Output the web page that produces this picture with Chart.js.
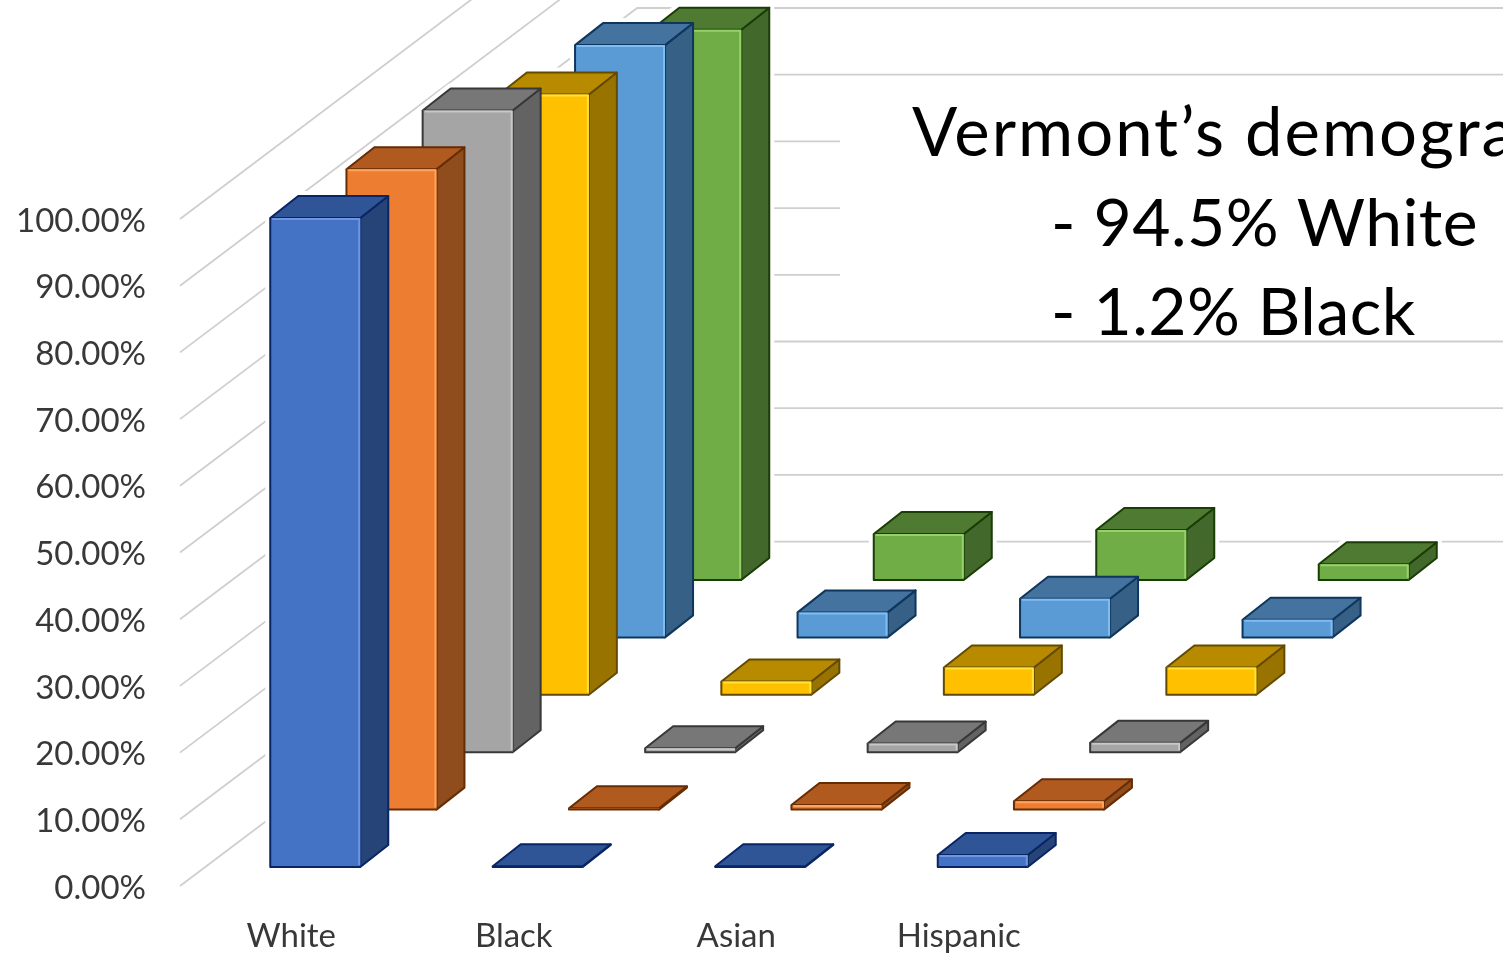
<!DOCTYPE html>
<html>
<head>
<meta charset="utf-8">
<title>Vermont demographics</title>
<script src="https://cdn.jsdelivr.net/npm/chart.js@4/dist/chart.umd.min.js"></script>
<style>
    body { margin: 0; background: #fff; }
    canvas { display: block; filter: blur(0.7px); }
</style>
</head>
<body>
<canvas id="demoChart" width="1503" height="955"></canvas>
<script>
// values
const categories = ['White', 'Black', 'Asian', 'Hispanic'];
const seriesNames = ['Series 1', 'Series 2', 'Series 3', 'Series 4', 'Series 5', 'Series 6'];
const series1 = [97.3, 0.1, 0.1, 1.8];
const series2 = [96.0, 0.2, 0.7, 1.25];
const series3 = [96.2, 0.6, 1.3, 1.4];
const series4 = [90.0, 2.0, 4.1, 4.1];
const series5 = [88.8, 3.75, 5.8, 2.65];
const series6 = [82.5, 6.9, 7.5, 2.35];
const allSeries = [series1, series2, series3, series4, series5, series6];
const noteLines = ['Vermont\u2019s demographics', '- 94.5% White', '- 1.2% Black'];

// front, side, top, dark edge, light edge
const palette = [
    ['#4472c4', '#264478', '#2f5597', '#0a2563', '#6f97e0'],
    ['#ed7d31', '#8f4c1c', '#b05a20', '#662c04', '#ffa35f'],
    ['#a5a5a5', '#636363', '#777777', '#383838', '#c8c8c8'],
    ['#ffc000', '#997300', '#b88a00', '#634a00', '#ffe23a'],
    ['#5b9bd5', '#376087', '#44739f', '#0f365c', '#7fbdf2'],
    ['#70ad47', '#43682b', '#4f7a32', '#1a3c05', '#96d26a']
];

// oblique projection of the depth axis
const STEP_X = 76.2;
const STEP_Y = -57.4;
const DEPTH_X = 28;
const DEPTH_Y = -22;
const BAR_SHIFT_X = 24;
const BAR_SHIFT_Y = -21;
const GRID_SHIFT_Y = -2;
const GRID = '#cfcfcf';

function poly(ctx, pts, fill, stroke) {
    ctx.beginPath();
    pts.forEach((p, i) => i ? ctx.lineTo(p[0], p[1]) : ctx.moveTo(p[0], p[1]));
    ctx.closePath();
    ctx.fillStyle = fill;
    ctx.fill();
    if (stroke) {
        ctx.strokeStyle = stroke;
        ctx.lineWidth = 2;
        ctx.lineJoin = 'round';
        ctx.stroke();
    }
}

function boxOf(bar, s) {
    const left = bar.x - bar.width / 2 + BAR_SHIFT_X + s * STEP_X;
    const bottom = bar.base + BAR_SHIFT_Y + s * STEP_Y;
    return { left, right: left + bar.width, bottom, top: bottom - (bar.base - bar.y) };
}

const bars3d = {
    id: 'bars3d',
    beforeDatasetsDraw(chart) {
        const { ctx, scales: { x, y } } = chart;
        const backX = allSeries.length * STEP_X;
        const backY = allSeries.length * STEP_Y;
        ctx.save();
        ctx.strokeStyle = GRID;
        ctx.lineWidth = 1.8;
        y.ticks.forEach(t => {
            const py = y.getPixelForValue(t.value) + GRID_SHIFT_Y;
            ctx.beginPath();
            ctx.moveTo(x.left, py);
            ctx.lineTo(x.left + backX, py + backY);
            ctx.lineTo(chart.width, py + backY);
            ctx.stroke();
        });
        // white halo round the boxes, the gridlines stop short of them
        allSeries.forEach((vals, s) => {
            chart.getDatasetMeta(s).data.forEach(bar => {
                const b = boxOf(bar, s);
                ctx.strokeStyle = '#fff';
                ctx.lineWidth = 10;
                poly(ctx, [[b.left, b.bottom], [b.left, b.top], [b.left + DEPTH_X, b.top + DEPTH_Y],
                    [b.right + DEPTH_X, b.top + DEPTH_Y], [b.right + DEPTH_X, b.bottom + DEPTH_Y], [b.right, b.bottom]], '#fff');
                ctx.stroke();
            });
        });
        ctx.restore();
    },
    beforeDatasetDraw(chart, args) {
        const { ctx } = chart;
        const s = args.index;
        const c = palette[s];
        ctx.save();
        args.meta.data.forEach(bar => {
            const b = boxOf(bar, s);
            poly(ctx, [[b.right, b.bottom], [b.right, b.top], [b.right + DEPTH_X, b.top + DEPTH_Y], [b.right + DEPTH_X, b.bottom + DEPTH_Y]], c[1], c[3]);
            poly(ctx, [[b.left, b.top], [b.right, b.top], [b.right + DEPTH_X, b.top + DEPTH_Y], [b.left + DEPTH_X, b.top + DEPTH_Y]], c[2], c[3]);
            poly(ctx, [[b.left, b.bottom], [b.left, b.top], [b.right, b.top], [b.right, b.bottom]], c[0]);
            // bevel on the front face
            ctx.lineWidth = 2;
            ctx.strokeStyle = c[3];
            ctx.beginPath();
            ctx.moveTo(b.left, b.top);
            ctx.lineTo(b.left, b.bottom);
            ctx.lineTo(b.right, b.bottom);
            ctx.stroke();
            if (b.bottom - b.top > 4) {
                ctx.lineWidth = 2;
                ctx.strokeStyle = c[4];
                ctx.beginPath();
                ctx.moveTo(b.left + 2, b.top + 1);
                ctx.lineTo(b.right - 1, b.top + 1);
                ctx.lineTo(b.right - 1, b.bottom - 2);
                ctx.stroke();
            }
        });
        ctx.restore();
        return false;
    },
    afterDraw(chart) {
        const { ctx } = chart;
        ctx.save();
        // the text box covers the back wall lines
        ctx.fillStyle = '#fff';
        ctx.fillRect(840, 80, chart.width - 840, 261);
        ctx.fillStyle = '#e6e6e6';
        ctx.fillRect(840, 340, chart.width - 840, 1);
        ctx.fillStyle = '#000';
        ctx.textAlign = 'left';
        ctx.textBaseline = 'alphabetic';
        ctx.font = '67px Lato';
        ctx.letterSpacing = '2px';
        ctx.fillText(noteLines[0], 912, 156);
        ctx.font = '66px Lato';
        ctx.letterSpacing = '0.5px';
        ctx.fillText(noteLines[1], 1051, 246);
        ctx.fillText(noteLines[2], 1051, 335);
        ctx.restore();
    }
};

new Chart(document.getElementById('demoChart'), {
    type: 'bar',
    data: {
        labels: categories,
        datasets: allSeries.map((vals, s) => ({
            label: seriesNames[s],
            data: vals,
            backgroundColor: palette[s][0],
            grouped: false,
            barThickness: 90
        }))
    },
    options: {
        responsive: false,
        animation: false,
        layout: { padding: { top: 221, right: 433, left: 0, bottom: 0 } },
        plugins: { legend: { display: false }, tooltip: { enabled: false } },
        scales: {
            x: {
                grid: { display: false },
                border: { display: false },
                afterFit: scale => { scale.height = 67; },
                ticks: { color: '#383838', padding: 21, maxRotation: 0, font: { family: 'Lato', size: 33 } }
            },
            y: {
                min: 0,
                max: 100,
                grid: { display: false, drawTicks: false },
                border: { display: false },
                afterFit: scale => { scale.width = 180; },
                ticks: {
                    stepSize: 10,
                    color: '#383838',
                    padding: 34,
                    font: { family: 'Lato', size: 33 },
                    callback: value => value.toFixed(2) + '%'
                }
            }
        }
    },
    plugins: [bars3d]
});
</script>
</body>
</html>
